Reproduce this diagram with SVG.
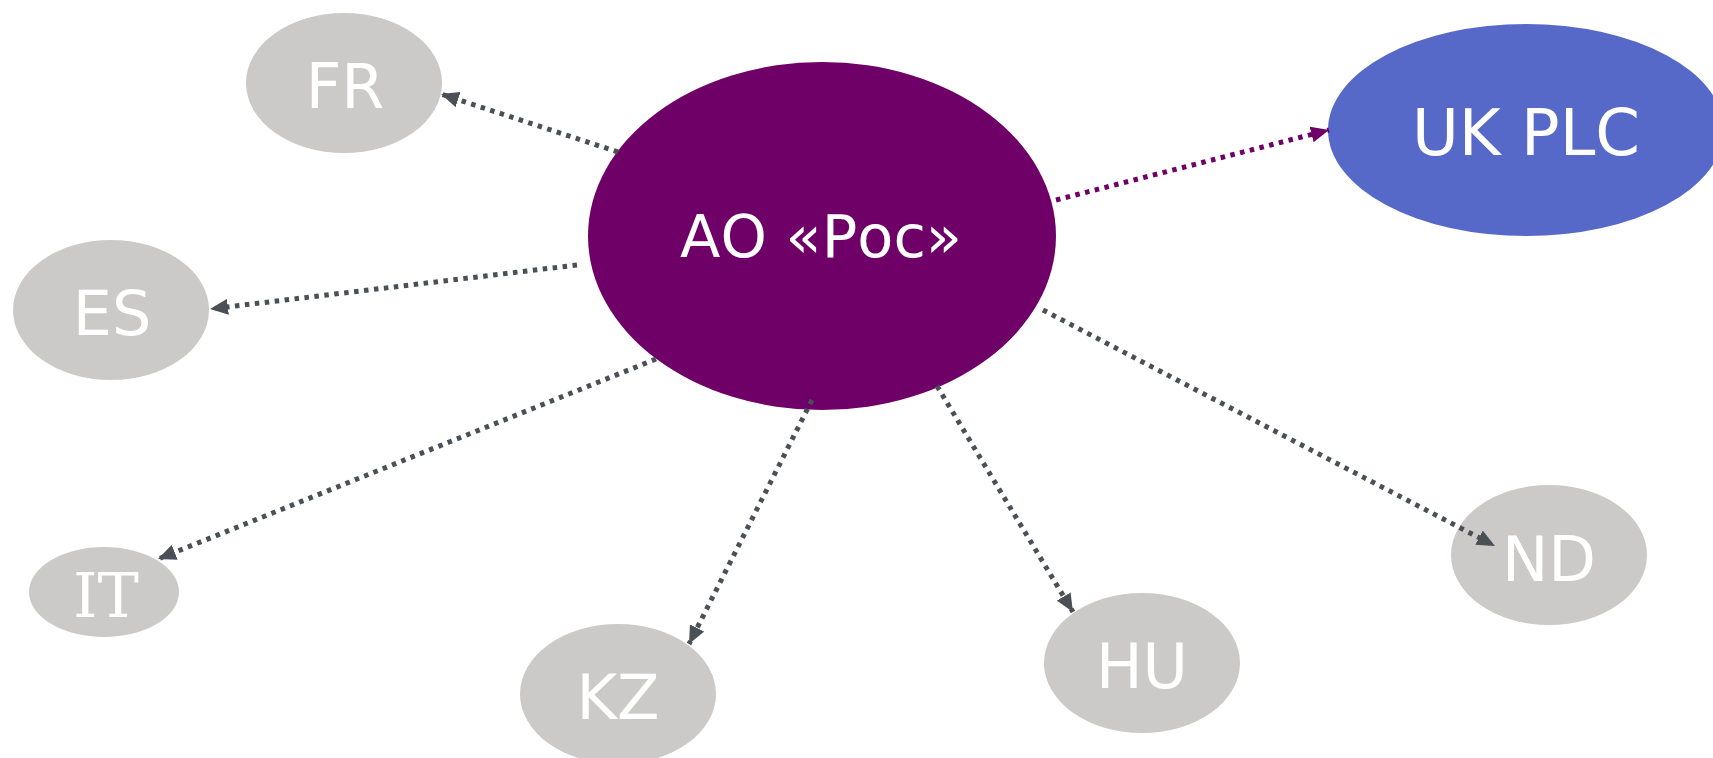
<svg xmlns="http://www.w3.org/2000/svg" width="1713" height="758" viewBox="0 0 1713 758">
<defs>
<style>
.grey{fill:#cbcac8}
.lbl{fill:#ffffff;font-family:"DejaVu Sans",sans-serif;text-anchor:middle}
.conn{fill:none;stroke:#4b4f56;stroke-width:5;stroke-dasharray:4.5 5.5}
.connp{fill:none;stroke:#6f0068;stroke-width:5;stroke-dasharray:4.5 5.5}
</style>
<marker id="ah" markerUnits="userSpaceOnUse" markerWidth="18" markerHeight="16" refX="18" refY="8" orient="auto" viewBox="0 0 18 16">
<path d="M0,0 L18,8 L0,16 z" fill="#4b4f56"/>
</marker>
<marker id="ahp" markerUnits="userSpaceOnUse" markerWidth="18" markerHeight="16" refX="18" refY="8" orient="auto" viewBox="0 0 18 16">
<path d="M0,0 L18,8 L0,16 z" fill="#6f0068"/>
</marker>
</defs>
<rect width="1713" height="758" fill="#ffffff"/>
<g id="node-center">
<ellipse cx="822" cy="236" rx="234" ry="174" fill="#6f0068"/>
<text class="lbl" x="821" y="257" font-size="59">АО «Рос»</text>
</g>
<g id="node-uk">
<ellipse cx="1526" cy="130" rx="198" ry="106" fill="#5669c8"/>
<text class="lbl" x="1526" y="155" font-size="64">UK PLC</text>
</g>
<g id="node-fr">
<ellipse class="grey" cx="344" cy="83" rx="98" ry="70"/>
<text class="lbl" x="345" y="108" font-size="62">FR</text>
</g>
<g id="node-es">
<ellipse class="grey" cx="111" cy="310" rx="98" ry="70"/>
<text class="lbl" x="112" y="335" font-size="62">ES</text>
</g>
<g id="node-it">
<ellipse class="grey" cx="104" cy="592" rx="75" ry="45"/>
<text x="106" y="617" font-size="62" fill="#ffffff" text-anchor="middle" font-family="'DejaVu Serif',serif">IT</text>
</g>
<g id="node-kz">
<ellipse class="grey" cx="618" cy="694" rx="98" ry="70"/>
<text class="lbl" x="618" y="719" font-size="62">KZ</text>
</g>
<g id="node-hu">
<ellipse class="grey" cx="1142" cy="663" rx="98" ry="70"/>
<text class="lbl" x="1142" y="688" font-size="62">HU</text>
</g>
<g id="node-nd">
<ellipse class="grey" cx="1549" cy="555" rx="98" ry="70"/>
<text class="lbl" x="1549" y="581" font-size="62">ND</text>
</g>
<g id="connectors">
<line class="conn" x1="618" y1="152" x2="441" y2="94" marker-end="url(#ah)"/>
<line class="connp" x1="1056" y1="200" x2="1329" y2="130" marker-end="url(#ahp)"/>
<line class="conn" x1="577" y1="265" x2="210" y2="309" marker-end="url(#ah)"/>
<line class="conn" x1="656" y1="359" x2="158" y2="559" marker-end="url(#ah)"/>
<line class="conn" x1="812" y1="400" x2="689" y2="644" marker-end="url(#ah)"/>
<line class="conn" x1="937" y1="386" x2="1073" y2="612" marker-end="url(#ah)"/>
<line class="conn" x1="1043" y1="310" x2="1495" y2="546" marker-end="url(#ah)"/>
</g>
</svg>
